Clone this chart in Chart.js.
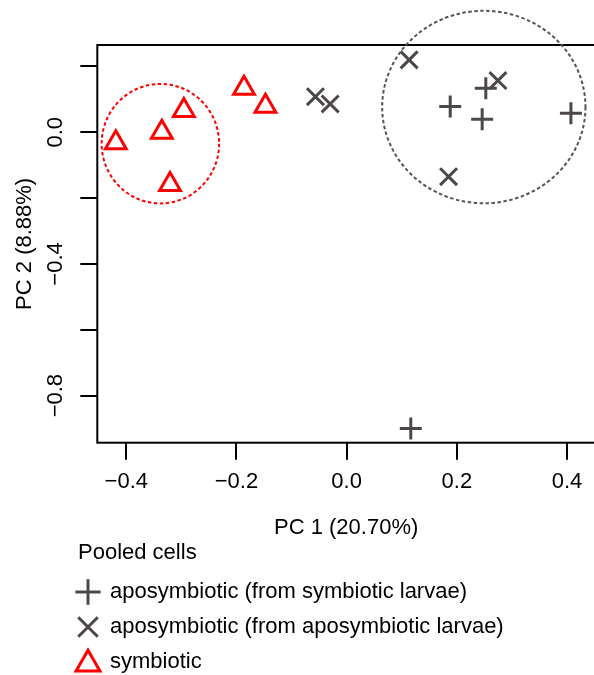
<!DOCTYPE html>
<html lang="en">
<head>
<meta charset="UTF-8" />
<title>PCA pooled cells</title>
<script src="https://cdn.jsdelivr.net/npm/chart.js"></script>
<style>
  html, body { margin: 0; padding: 0; background: #fff; overflow: hidden; }
  canvas { display: block; }
</style>
</head>
<body>
<canvas id="pca" width="610" height="675"></canvas>
<script>
// values (PC1, PC2)
const aposymSymX = [0.188, 0.2526, 0.246, 0.4071, 0.1164];
const aposymSymY = [0.078, 0.134, 0.0395, 0.0578, -0.900];
const aposymAposX = [0.1134, 0.2746, 0.185, -0.0567, -0.0299];
const aposymAposY = [0.2198, 0.157, -0.135, 0.108, 0.086];
const symX = [-0.419, -0.3355, -0.2955, -0.3206, -0.1863, -0.1474];
const symY = [-0.032, 0.0, 0.0657, -0.159, 0.134, 0.079];

const seriesLabels = [
  'aposymbiotic (from symbiotic larvae)',
  'aposymbiotic (from aposymbiotic larvae)',
  'symbiotic'
];
const legendTitle = 'Pooled cells';

const xTicks = [-0.4, -0.2, 0.0, 0.2, 0.4];
const xTickLabels = ['\u22120.4', '\u22120.2', '0.0', '0.2', '0.4'];
const yTicks = [-0.8, -0.6, -0.4, -0.2, 0.0, 0.2];
const yTickLabels = ['\u22120.8', '', '\u22120.4', '', '0.0', ''];

// dashed group outlines (centre and half-widths in data units)
const groupCx = [-0.3381, 0.249];
const groupCy = [-0.0347, 0.0766];
const groupRx = [0.1066, 0.1845];
const groupRy = [0.1815, 0.2924];

const gray = '#4d4848';
const red = '#ff0000';
const groupColors = [red, '#555555'];
const FONT = '"Liberation Sans", Arial, sans-serif';

const toPts = (xs, ys) => xs.map((x, i) => ({ x: x, y: ys[i] }));

const boxAndExtras = {
  id: 'boxAndExtras',
  afterDatasetsDraw(chart) {
    const { ctx, chartArea: a } = chart;
    ctx.save();
    ctx.strokeStyle = '#000';
    ctx.lineWidth = 2;
    ctx.strokeRect(a.left, a.top, a.right - a.left, a.bottom - a.top);
    ctx.restore();
  },
  afterDraw(chart) {
    const { ctx, scales } = chart;
    const xs = scales.x, ys = scales.y;
    // group ellipses
    ctx.save();
    ctx.lineWidth = 2;
    ctx.setLineDash([3.5, 2.5]);
    groupCx.forEach((cx, i) => {
      const px = xs.getPixelForValue(cx);
      const py = ys.getPixelForValue(groupCy[i]);
      const rx = Math.abs(xs.getPixelForValue(cx + groupRx[i]) - px);
      const ry = Math.abs(ys.getPixelForValue(groupCy[i] + groupRy[i]) - py);
      ctx.strokeStyle = groupColors[i];
      ctx.beginPath();
      ctx.ellipse(px, py, rx, ry, 0, 0, Math.PI * 2);
      ctx.stroke();
    });
    ctx.restore();

    // legend
    ctx.save();
    ctx.font = '22px ' + FONT;
    ctx.fillStyle = '#000';
    ctx.textBaseline = 'middle';
    ctx.textAlign = 'left';
    ctx.fillText(legendTitle, 78, 553);
    const rows = [592, 627, 662];
    chart.data.datasets.forEach((ds, i) => {
      ctx.save();
      ctx.strokeStyle = ds.borderColor;
      ctx.fillStyle = 'rgba(0,0,0,0)';
      ctx.lineWidth = ds.borderWidth;
      Chart.helpers.drawPoint(ctx, {
        pointStyle: ds.pointStyle,
        radius: ds.pointRadius * 1.15,
        rotation: 0,
        borderWidth: ds.borderWidth
      }, 88, rows[i] + (ds.pointStyle === 'triangle' ? 2 : 0));
      ctx.restore();
      ctx.fillStyle = '#000';
      ctx.fillText(ds.label, 110, rows[i]);
    });
    ctx.restore();
  }
};

new Chart(document.getElementById('pca'), {
  type: 'scatter',
  data: {
    datasets: [
      {
        label: seriesLabels[0],
        data: toPts(aposymSymX, aposymSymY),
        pointStyle: 'cross',
        pointRadius: 11,
        borderWidth: 3,
        borderColor: gray,
        backgroundColor: gray
      },
      {
        label: seriesLabels[1],
        data: toPts(aposymAposX, aposymAposY),
        pointStyle: 'crossRot',
        pointRadius: 12,
        borderWidth: 3,
        borderColor: gray,
        backgroundColor: gray
      },
      {
        label: seriesLabels[2],
        data: toPts(symX, symY),
        pointStyle: 'triangle',
        pointRadius: 12,
        borderWidth: 3,
        borderColor: red,
        backgroundColor: 'rgba(0,0,0,0)'
      }
    ]
  },
  options: {
    responsive: false,
    animation: false,
    events: [],
    layout: { padding: { left: 0, top: 45, right: 8.3, bottom: 130 } },
    plugins: {
      legend: { display: false },
      tooltip: { enabled: false }
    },
    scales: {
      x: {
        type: 'linear',
        min: -0.4526,
        max: 0.4508,
        afterBuildTicks: s => { s.ticks = xTicks.map(v => ({ value: v })); },
        afterFit: s => { s.height = 102.3; },
        border: { display: false },
        grid: { drawOnChartArea: false, drawTicks: true, tickLength: 17, color: '#000', lineWidth: 2 },
        ticks: {
          color: '#000',
          font: { family: FONT, size: 22 },
          padding: 9,
          maxRotation: 0,
          callback: (v, i) => xTickLabels[i]
        },
        title: {
          display: true,
          text: 'PC 1 (20.70%)',
          color: '#000',
          font: { family: FONT, size: 22 },
          padding: { top: 0, bottom: 4 }
        }
      },
      y: {
        type: 'linear',
        min: -0.943,
        max: 0.265,
        afterBuildTicks: s => { s.ticks = yTicks.map(v => ({ value: v })); },
        afterFit: s => { s.width = 97.3; },
        border: { display: false },
        grid: { drawOnChartArea: false, drawTicks: true, tickLength: 17, color: '#000', lineWidth: 2 },
        ticks: {
          color: '#000',
          font: { family: FONT, size: 22 },
          padding: 3,
          minRotation: 90,
          maxRotation: 90,
          crossAlign: 'center',
          callback: (v, i) => yTickLabels[i]
        },
        title: {
          display: true,
          text: 'PC 2 (8.88%)',
          color: '#000',
          font: { family: FONT, size: 22 },
          padding: { top: 11.8, bottom: 0 }
        }
      }
    }
  },
  plugins: [boxAndExtras]
});
</script>
</body>
</html>
